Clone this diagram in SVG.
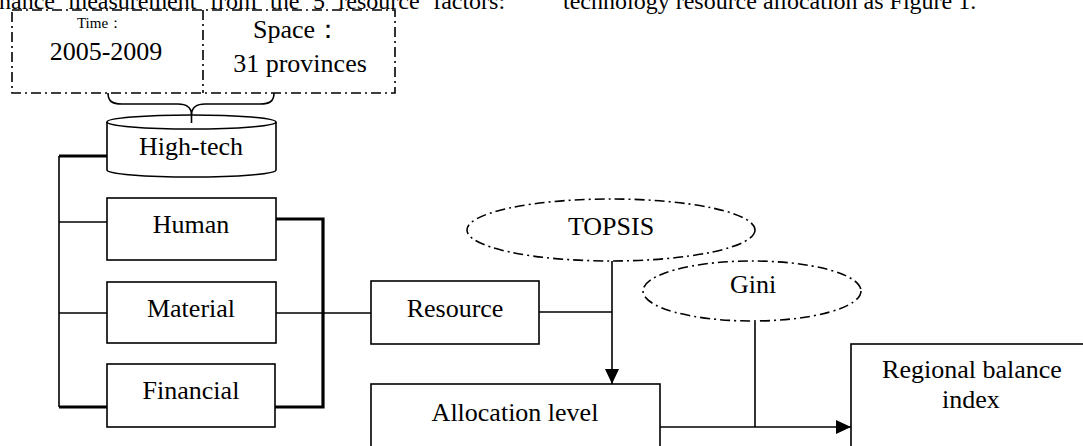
<svg xmlns="http://www.w3.org/2000/svg" width="1083" height="446" viewBox="0 0 1083 446">
<style>
text{font-family:"Liberation Serif","Times New Roman",serif;fill:#000}
.t{font-size:26px;text-anchor:middle}
.p{font-size:24px}
.box{fill:#fff;stroke:#000;stroke-width:1.6}
.dd{fill:none;stroke:#000;stroke-width:1.6;stroke-dasharray:10 4 2 4}
.c{fill:none;stroke:#000;stroke-width:1.6}
.ck{fill:none;stroke:#000;stroke-width:3.2}
</style>
<defs>
<marker id="arr" markerUnits="userSpaceOnUse" markerWidth="16" markerHeight="16" viewBox="0 0 16 16" refX="15" refY="8" orient="auto">
<path d="M0,1 L15,8 L0,15 Z" fill="#000"/>
</marker>
</defs>
<g id="paragraph">
<text class="p" x="-1" y="9" word-spacing="7.5">nance measurement from the 5 resource factors:</text>
<text class="p" x="563" y="9">technology resource allocation as Figure 1.</text>
</g>
<g id="connectors">
<path class="ck" d="M107,156 H59"/>
<path class="c" d="M59,156 V407"/>
<path class="c" d="M59,222 H107"/>
<path class="c" d="M59,313 H107"/>
<path class="ck" d="M59,407 H107"/>
<path class="ck" d="M276,219 H323 V407 H275"/>
<path class="c" d="M276,313 H371"/>
<path class="c" d="M539,312 H612"/>
<path class="c" d="M612,261 V384" marker-end="url(#arr)"/>
<path class="c" d="M755,322 V427"/>
<path class="c" d="M660,427 H851" marker-end="url(#arr)"/>
</g>
<g id="scope">
<rect class="dd" x="12" y="10" width="383" height="83"/>
<path class="dd" d="M203,10 V93"/>
<text x="100" y="28" font-size="15" text-anchor="middle">Time：</text>
<text class="t" x="106" y="60">2005-2009</text>
<text class="t" x="297" y="38">Space：</text>
<text class="t" x="300" y="72">31 provinces</text>
</g>
<g id="hightech">
<path class="box" d="M107,122 V170 A84.5,7 0 0 0 276,170 V122"/>
<ellipse class="box" cx="191.5" cy="122" rx="84.5" ry="7"/>
<text class="t" x="191" y="155">High-tech</text>
</g>
<g id="brace">
<path class="c" d="M108,93 C108,101 112,104 122,104 L178,104 C187,104 191,108 191.5,114 C192,108 196,104 205,104 L260,104 C270,104 274,101 274,93"/>
<path class="c" d="M191.5,113 V123"/>
</g>
<g id="human">
<rect class="box" x="107" y="198" width="169" height="62"/>
<text class="t" x="191" y="233">Human</text>
</g>
<g id="material">
<rect class="box" x="107" y="282" width="169" height="61"/>
<text class="t" x="191" y="317">Material</text>
</g>
<g id="financial">
<rect class="box" x="107" y="364" width="168" height="63"/>
<text class="t" x="191" y="399">Financial</text>
</g>
<g id="resource">
<rect class="box" x="371" y="281" width="168" height="63"/>
<text class="t" x="455" y="317">Resource</text>
</g>
<g id="topsis">
<ellipse class="dd" cx="611" cy="230" rx="144" ry="31"/>
<text class="t" x="611" y="235">TOPSIS</text>
</g>
<g id="gini">
<ellipse class="dd" cx="752" cy="291" rx="109" ry="30"/>
<text class="t" x="753" y="293">Gini</text>
</g>
<g id="allocation">
<rect class="box" x="371" y="384" width="289" height="80"/>
<text class="t" x="515" y="421">Allocation level</text>
</g>
<g id="regional">
<rect class="box" x="851" y="344" width="250" height="120"/>
<text class="t" x="972" y="378">Regional balance</text>
<text class="t" x="971" y="408">index</text>
</g>
</svg>
